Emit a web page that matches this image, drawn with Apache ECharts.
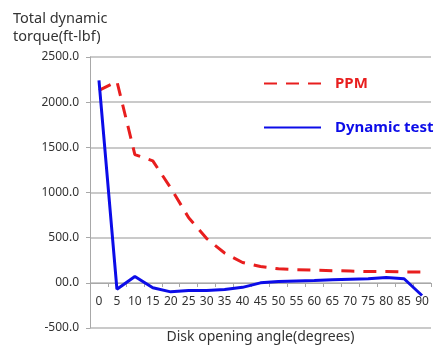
<!DOCTYPE html>
<html>
<head>
<meta charset="utf-8">
<script src="https://cdn.jsdelivr.net/npm/echarts@6/dist/echarts.min.js"></script>
<style>
  html, body { margin: 0; padding: 0; background: #fff; }
  #chart { width: 436px; height: 349px; }
</style>
</head>
<body>
<div id="chart"></div>
<script>
var angles = ['0', '5', '10', '15', '20', '25', '30', '35', '40', '45',
  '50', '55', '60', '65', '70', '75', '80', '85', '90'];
var ppm = [2130, 2230, 1420, 1350, 1050, 720, 490, 330, 225, 180,
  155, 145, 140, 135, 130, 125, 125, 120, 120];
var dynamicTest = [2240, -70, 70, -55, -100, -85, -85, -75, -50, 0,
  15, 20, 25, 35, 40, 45, 60, 45, -140];

var chartDom = document.getElementById('chart');
var myChart = echarts.init(chartDom);
var font = 'Noto Sans';
var red = '#e81e1e';
var blue = '#0c0ce8';

var option = {
  animation: false,
  title: {
    text: 'Total dynamic\ntorque(ft-lbf)',
    left: 8,
    top: 5,
    textStyle: { fontFamily: font, fontSize: 14.5, fontWeight: 'normal', color: '#333', lineHeight: 18 }
  },
  legend: {
    orient: 'vertical',
    left: 263,
    top: 76,
    padding: 0,
    itemWidth: 57,
    itemHeight: 14,
    itemGap: 29,
    itemStyle: { opacity: 0 },
    textStyle: { fontFamily: font, fontSize: 15, fontWeight: 'bold', padding: [0, 0, 0, 9] },
    data: [
      { name: 'PPM', textStyle: { color: red } },
      { name: 'Dynamic test', textStyle: { color: blue } }
    ]
  },
  grid: { left: 90, right: 5, top: 57, bottom: 21, containLabel: false, outerBoundsMode: 'none' },
  xAxis: {
    type: 'category',
    data: angles,
    boundaryGap: true,
    // axis drawn at the 0.0 line, like the original
    offset: -45,
    name: 'Disk opening angle(degrees)',
    nameLocation: 'middle',
    nameGap: 47,
    nameTextStyle: { fontFamily: font, fontSize: 14, color: '#333' },
    axisLine: { onZero: false, lineStyle: { color: '#a8a8a8', width: 1 } },
    axisTick: { show: true, length: 4, lineStyle: { color: '#a8a8a8' } },
    axisLabel: { interval: 0, margin: 13, fontFamily: font, fontSize: 12, color: '#333' }
  },
  yAxis: {
    type: 'value',
    min: -500,
    max: 2500,
    interval: 500,
    axisLine: { show: true, lineStyle: { color: '#a8a8a8' } },
    axisTick: { show: true, length: 4, lineStyle: { color: '#a8a8a8' } },
    splitLine: { lineStyle: { color: '#b8b8b8', width: 1.5 } },
    axisLabel: {
      margin: 11,
      fontFamily: font,
      fontSize: 12,
      color: '#333',
      formatter: function (v) { return v === 0 ? '00.0' : v.toFixed(1); }
    }
  },
  series: [
    {
      name: 'PPM',
      type: 'line',
      data: ppm,
      symbol: 'none',
      lineStyle: { color: red, width: 3, type: [13, 9] },
      itemStyle: { color: red }
    },
    {
      name: 'Dynamic test',
      type: 'line',
      data: dynamicTest,
      symbol: 'none',
      lineStyle: { color: blue, width: 3 },
      itemStyle: { color: blue }
    }
  ]
};

option && myChart.setOption(option);
</script>
</body>
</html>
